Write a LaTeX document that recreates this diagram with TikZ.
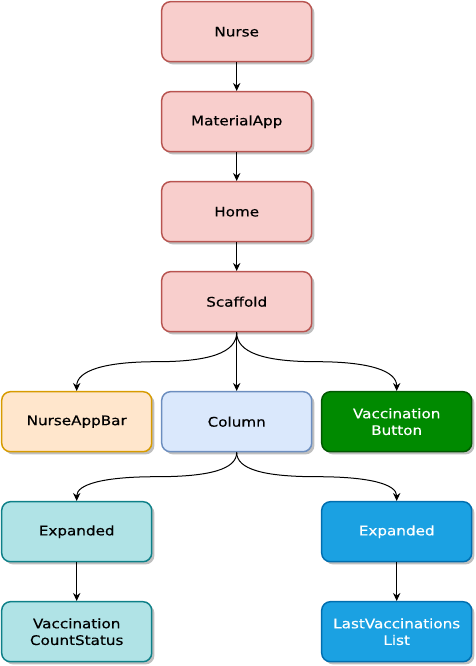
\documentclass[tikz,border=0pt]{standalone}
\usepackage{fontspec}
\setmainfont{DejaVu Sans}[FakeStretch=1.15,FakeBold=0.4]
\usetikzlibrary{arrows.meta,shadows}

\begin{document}
\begin{tikzpicture}[x=0.75pt,y=0.75pt,yscale=-1,xscale=1,
  widget/.style={draw,rounded corners=6.5pt,line width=1.1pt,minimum width=112.5pt,minimum height=45pt,align=center,font=\fontsize{9.9}{12.5}\selectfont,drop shadow={shadow xshift=2pt,shadow yshift=-2pt,opacity=0.25,fill=black}},
  pinkbox/.style={widget,fill={rgb,255:red,248;green,206;blue,204},draw={rgb,255:red,184;green,84;blue,80}},
  orangebox/.style={widget,fill={rgb,255:red,255;green,230;blue,204},draw={rgb,255:red,215;green,155;blue,0}},
  bluebox/.style={widget,fill={rgb,255:red,218;green,232;blue,252},draw={rgb,255:red,108;green,142;blue,191}},
  greenbox/.style={widget,fill={rgb,255:red,0;green,138;blue,0},draw={rgb,255:red,0;green,87;blue,0},text=white},
  tealbox/.style={widget,fill={rgb,255:red,176;green,227;blue,230},draw={rgb,255:red,14;green,128;blue,136}},
  skybox/.style={widget,fill={rgb,255:red,27;green,161;blue,226},draw={rgb,255:red,0;green,110;blue,175},text=white},
  link/.style={-{Stealth[length=6pt,width=5.5pt]},line width=0.75pt}
]
\useasboundingbox (0,0) rectangle (475,666);

%Shape: Rounded Rect [nurse]
\node[pinkbox] (nurse) at (236.7,31.7) {Nurse};
%Shape: Rounded Rect [app]
\node[pinkbox] (app) at (236.7,121.7) {MaterialApp};
%Shape: Rounded Rect [home]
\node[pinkbox] (home) at (236.7,211.7) {Home};
%Shape: Rounded Rect [scaffold]
\node[pinkbox] (scaffold) at (236.7,301.7) {Scaffold};

%Shape: Rounded Rect [appbar]
\node[orangebox] (appbar) at (76.7,421.7) {NurseAppBar};
%Shape: Rounded Rect [column]
\node[bluebox] (column) at (236.7,421.7) {Column};
%Shape: Rounded Rect [vbutton]
\node[greenbox] (vbutton) at (396.7,421.7) {Vaccination\\Button};

%Shape: Rounded Rect [expleft]
\node[tealbox] (expleft) at (76.7,531.7) {Expanded};
%Shape: Rounded Rect [expright]
\node[skybox] (expright) at (396.7,531.7) {Expanded};

%Shape: Rounded Rect [countstatus]
\node[tealbox] (countstatus) at (76.7,631.7) {Vaccination\\CountStatus};
%Shape: Rounded Rect [lastlist]
\node[skybox] (lastlist) at (396.7,631.7) {LastVaccinations\\List};

%Straight Lines
\draw[link] (nurse) -- (app);
\draw[link] (app) -- (home);
\draw[link] (home) -- (scaffold);
\draw[link] (scaffold) -- (column);
\draw[link] (expleft) -- (countstatus);
\draw[link] (expright) -- (lastlist);

%Curve Lines
\coordinate (kneeA) at (156.7,361.7);
\coordinate (kneeB) at (316.7,361.7);
\coordinate (kneeC) at (156.7,476.7);
\coordinate (kneeD) at (316.7,476.7);
\draw[link] (scaffold.south) .. controls +(0,20) and +(53.3,0) .. (kneeA) .. controls +(-53.3,0) and +(0,-20) .. (appbar.north);
\draw[link] (scaffold.south) .. controls +(0,20) and +(-53.3,0) .. (kneeB) .. controls +(53.3,0) and +(0,-20) .. (vbutton.north);
\draw[link] (column.south) .. controls +(0,16.7) and +(53.3,0) .. (kneeC) .. controls +(-53.3,0) and +(0,-16.7) .. (expleft.north);
\draw[link] (column.south) .. controls +(0,16.7) and +(-53.3,0) .. (kneeD) .. controls +(53.3,0) and +(0,-16.7) .. (expright.north);

\end{tikzpicture}
\end{document}
